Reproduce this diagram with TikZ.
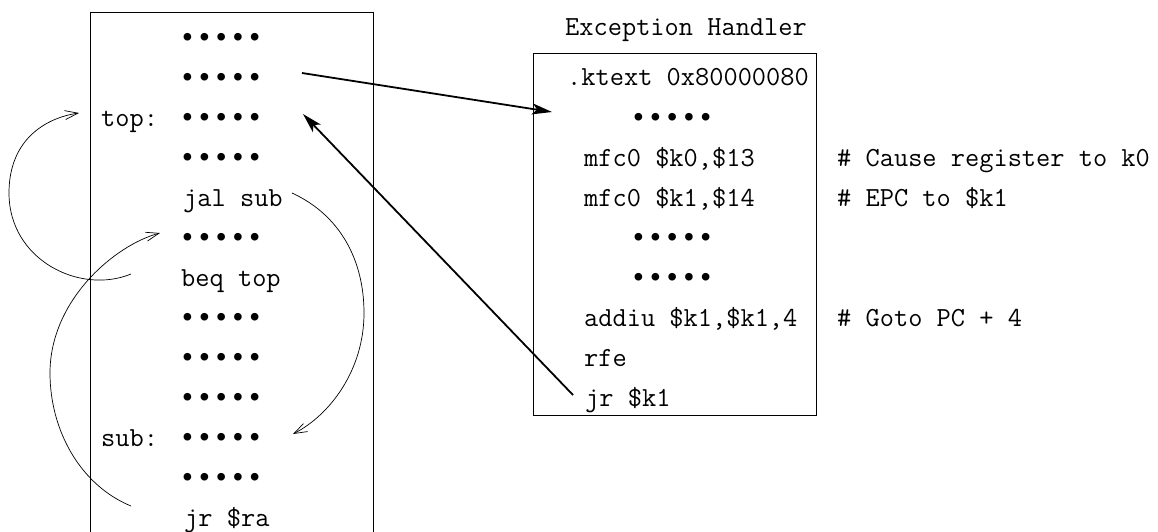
\documentclass[tikz,border=0pt]{standalone}
\usepackage{fontspec}
\newfontfamily\bulletfont{Liberation Mono}
\usetikzlibrary{arrows.meta}
\begin{document}
\begin{tikzpicture}[x=1pt,y=-1pt,
  code/.style={font=\fontsize{27.6}{30}\ttfamily, anchor=base west, inner sep=0pt},
  dotrow/.style={font=\fontsize{28}{28}\bulletfont, anchor=west, inner sep=0pt},
  box/.style={draw, line width=0.8pt},
  thinarrow/.style={line width=0.7pt, -{Straight Barb[length=13pt,width=9pt]}},
  thickarrow/.style={line width=1.8pt, -{Stealth[length=20pt,width=11pt,inset=5pt]}}]
\useasboundingbox (0,0) rectangle (1158,531);
\clip (0,0) rectangle (1158,531);
% boxes
\draw[box] (90,12) rectangle (373,560);
\draw[box] (533,53) rectangle (816,415);
% left column
\node[dotrow] (l1) at (179,40) {•••••};
\node[dotrow] (l2) at (179,80) {•••••};
\node[code] (top) at (101,126) {top:};
\node[dotrow] (l3) at (179,120) {•••••};
\node[dotrow] (l4) at (179,160) {•••••};
\node[code] (jal) at (183,206) {jal sub};
\node[dotrow] (l6) at (179,240) {•••••};
\node[code] (beq) at (181,286) {beq top};
\node[dotrow] (l8) at (179,320) {•••••};
\node[dotrow] (l9) at (179,360) {•••••};
\node[dotrow] (l10) at (179,400) {•••••};
\node[code] (sub) at (101,446) {sub:};
\node[dotrow] (l11) at (179,440) {•••••};
\node[dotrow] (l12) at (179,480) {•••••};
\node[code] (jrra) at (184,526) {jr \$ra};
% right column
\node[code] (title) at (565,35) {Exception Handler};
\node[code] (ktext) at (567,85) {.ktext 0x80000080};
\node[dotrow] (r1) at (630,120) {•••••};
\node[code] (mfa) at (584,166) {mfc0 \$k0,\$13};
\node[code] (mfb) at (584,206) {mfc0 \$k1,\$14};
\node[dotrow] (r2) at (630,240) {•••••};
\node[dotrow] (r3) at (630,280) {•••••};
\node[code] (addiu) at (584,326) {addiu \$k1,\$k1,4};
\node[code] (rfe) at (584,366) {rfe};
\node[code] (jrk) at (585,406) {jr \$k1};
\node[code] (c1) at (837,166) {\# Cause register to k0};
\node[code] (c2) at (837,206) {\# EPC to \$k1};
\node[code] (c3) at (837,326) {\# Goto PC + 4};
% connector ends
\coordinate (s1) at (302,73);
\coordinate (e1) at (552,112);
\coordinate (s2) at (573,395);
\coordinate (e2) at (303,114);
\coordinate (a0) at (131,274);
\coordinate (a1) at (9,193);
\coordinate (a2) at (79,113);
\coordinate (b0) at (131,506);
\coordinate (b1) at (50,373);
\coordinate (b2) at (160,233);
\coordinate (c0) at (292,193);
\coordinate (cc) at (364,313);
\coordinate (c9) at (293,434);
% arrows
\draw[thickarrow] (s1) -- (e1);
\draw[thickarrow] (s2) -- (e2);
\draw[thinarrow] (a0) .. controls (80,295) and (9,260) .. (a1) .. controls (9,140) and (45,118) .. (a2);
\draw[thinarrow] (b0) .. controls (80,485) and (50,430) .. (b1) .. controls (50,300) and (115,245) .. (b2);
\draw[thinarrow] (c0) .. controls (340,215) and (364,260) .. (cc) .. controls (364,370) and (330,415) .. (c9);
\end{tikzpicture}
\end{document}
